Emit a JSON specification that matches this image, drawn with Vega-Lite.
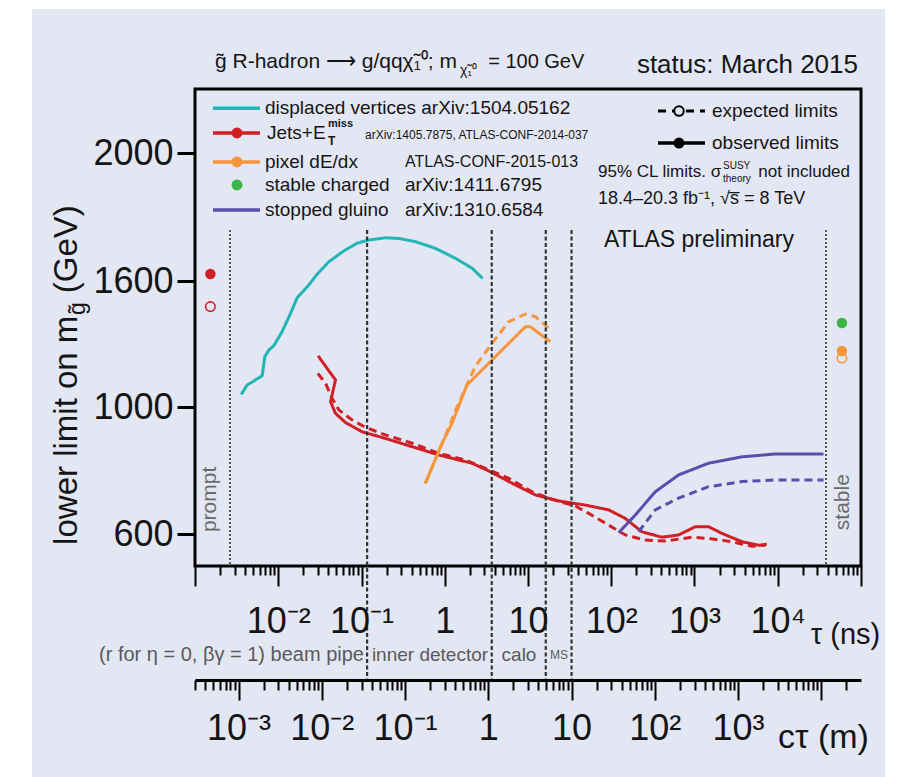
{
  "$schema": "https://vega.github.io/schema/vega-lite/v6.json",
  "width": 666,
  "height": 477,
  "autosize": {"type": "none"},
  "padding": {"left": 195, "top": 89, "right": 41, "bottom": 211},
  "background": "#ffffff",
  "config": {
    "view": {"stroke": null},
    "text": {"font": "Liberation Sans", "color": "#151515"},
    "axis": {"zindex": 2, "grid": false, "labelFont": "Liberation Sans", "titleFont": "Liberation Sans"}
  },
  "datasets": {
    "curves": [
      {"series":"displaced vertices","limit":"observed","tau":0.00359,"mass":1060},
      {"series":"displaced vertices","limit":"observed","tau":0.00424,"mass":1105},
      {"series":"displaced vertices","limit":"observed","tau":0.00509,"mass":1124},
      {"series":"displaced vertices","limit":"observed","tau":0.00641,"mass":1149},
      {"series":"displaced vertices","limit":"observed","tau":0.0069,"mass":1240},
      {"series":"displaced vertices","limit":"observed","tau":0.00771,"mass":1271},
      {"series":"displaced vertices","limit":"observed","tau":0.00885,"mass":1292},
      {"series":"displaced vertices","limit":"observed","tau":0.01114,"mass":1359},
      {"series":"displaced vertices","limit":"observed","tau":0.01406,"mass":1446},
      {"series":"displaced vertices","limit":"observed","tau":0.01687,"mass":1520},
      {"series":"displaced vertices","limit":"observed","tau":0.0233,"mass":1581},
      {"series":"displaced vertices","limit":"observed","tau":0.0293,"mass":1621},
      {"series":"displaced vertices","limit":"observed","tau":0.0405,"mass":1660},
      {"series":"displaced vertices","limit":"observed","tau":0.0613,"mass":1694},
      {"series":"displaced vertices","limit":"observed","tau":0.0885,"mass":1718},
      {"series":"displaced vertices","limit":"observed","tau":0.1224,"mass":1728},
      {"series":"displaced vertices","limit":"observed","tau":0.194,"mass":1735},
      {"series":"displaced vertices","limit":"observed","tau":0.2805,"mass":1733},
      {"series":"displaced vertices","limit":"observed","tau":0.445,"mass":1723},
      {"series":"displaced vertices","limit":"observed","tau":0.773,"mass":1702},
      {"series":"displaced vertices","limit":"observed","tau":1.343,"mass":1671},
      {"series":"displaced vertices","limit":"observed","tau":2.128,"mass":1640},
      {"series":"displaced vertices","limit":"observed","tau":2.858,"mass":1608},
      {"series":"Jets+MET","limit":"observed","tau":0.0301,"mass":1244},
      {"series":"Jets+MET","limit":"observed","tau":0.0386,"mass":1184},
      {"series":"Jets+MET","limit":"observed","tau":0.0487,"mass":1129},
      {"series":"Jets+MET","limit":"observed","tau":0.0425,"mass":1025},
      {"series":"Jets+MET","limit":"observed","tau":0.0487,"mass":980},
      {"series":"Jets+MET","limit":"observed","tau":0.0643,"mass":951},
      {"series":"Jets+MET","limit":"observed","tau":0.1016,"mass":922},
      {"series":"Jets+MET","limit":"observed","tau":0.194,"mass":901},
      {"series":"Jets+MET","limit":"observed","tau":0.405,"mass":875},
      {"series":"Jets+MET","limit":"observed","tau":0.847,"mass":849},
      {"series":"Jets+MET","limit":"observed","tau":1.472,"mass":833},
      {"series":"Jets+MET","limit":"observed","tau":2.128,"mass":823},
      {"series":"Jets+MET","limit":"observed","tau":3.54,"mass":796},
      {"series":"Jets+MET","limit":"observed","tau":6.43,"mass":760},
      {"series":"Jets+MET","limit":"observed","tau":12.27,"mass":723},
      {"series":"Jets+MET","limit":"observed","tau":23.4,"mass":704},
      {"series":"Jets+MET","limit":"observed","tau":48.9,"mass":691},
      {"series":"Jets+MET","limit":"observed","tau":93.1,"mass":676},
      {"series":"Jets+MET","limit":"observed","tau":147.6,"mass":649},
      {"series":"Jets+MET","limit":"observed","tau":233.8,"mass":607},
      {"series":"Jets+MET","limit":"observed","tau":406,"mass":590},
      {"series":"Jets+MET","limit":"observed","tau":644,"mass":597},
      {"series":"Jets+MET","limit":"observed","tau":1023,"mass":623},
      {"series":"Jets+MET","limit":"observed","tau":1477,"mass":623},
      {"series":"Jets+MET","limit":"observed","tau":2133,"mass":602},
      {"series":"Jets+MET","limit":"observed","tau":3707,"mass":576},
      {"series":"Jets+MET","limit":"observed","tau":5878,"mass":565},
      {"series":"Jets+MET","limit":"observed","tau":7396,"mass":568},
      {"series":"Jets+MET","limit":"expected","tau":0.0299,"mass":1160},
      {"series":"Jets+MET","limit":"expected","tau":0.037,"mass":1113},
      {"series":"Jets+MET","limit":"expected","tau":0.0444,"mass":1041},
      {"series":"Jets+MET","limit":"expected","tau":0.0534,"mass":991},
      {"series":"Jets+MET","limit":"expected","tau":0.0771,"mass":959},
      {"series":"Jets+MET","limit":"expected","tau":0.1117,"mass":936},
      {"series":"Jets+MET","limit":"expected","tau":0.194,"mass":912},
      {"series":"Jets+MET","limit":"expected","tau":0.405,"mass":886},
      {"series":"Jets+MET","limit":"expected","tau":0.847,"mass":854},
      {"series":"Jets+MET","limit":"expected","tau":1.771,"mass":833},
      {"series":"Jets+MET","limit":"expected","tau":3.08,"mass":807},
      {"series":"Jets+MET","limit":"expected","tau":5.87,"mass":775},
      {"series":"Jets+MET","limit":"expected","tau":11.17,"mass":733},
      {"series":"Jets+MET","limit":"expected","tau":19.4,"mass":709},
      {"series":"Jets+MET","limit":"expected","tau":37.1,"mass":688},
      {"series":"Jets+MET","limit":"expected","tau":53.6,"mass":665},
      {"series":"Jets+MET","limit":"expected","tau":93.1,"mass":628},
      {"series":"Jets+MET","limit":"expected","tau":147.6,"mass":597},
      {"series":"Jets+MET","limit":"expected","tau":256.6,"mass":581},
      {"series":"Jets+MET","limit":"expected","tau":446,"mass":578},
      {"series":"Jets+MET","limit":"expected","tau":931,"mass":590},
      {"series":"Jets+MET","limit":"expected","tau":1477,"mass":586},
      {"series":"Jets+MET","limit":"expected","tau":2812,"mass":576},
      {"series":"Jets+MET","limit":"expected","tau":4887,"mass":562},
      {"series":"Jets+MET","limit":"expected","tau":7079,"mass":565},
      {"series":"pixel dE/dx","limit":"observed","tau":0.583,"mass":759},
      {"series":"pixel dE/dx","limit":"observed","tau":0.929,"mass":886},
      {"series":"pixel dE/dx","limit":"observed","tau":1.224,"mass":949},
      {"series":"pixel dE/dx","limit":"observed","tau":1.853,"mass":1105},
      {"series":"pixel dE/dx","limit":"observed","tau":3.7,"mass":1224},
      {"series":"pixel dE/dx","limit":"observed","tau":9.31,"mass":1382},
      {"series":"pixel dE/dx","limit":"observed","tau":10.68,"mass":1382},
      {"series":"pixel dE/dx","limit":"observed","tau":18.58,"mass":1311},
      {"series":"pixel dE/dx","limit":"expected","tau":0.583,"mass":759},
      {"series":"pixel dE/dx","limit":"expected","tau":0.973,"mass":896},
      {"series":"pixel dE/dx","limit":"expected","tau":1.355,"mass":991},
      {"series":"pixel dE/dx","limit":"expected","tau":1.771,"mass":1090},
      {"series":"pixel dE/dx","limit":"expected","tau":2.337,"mass":1195},
      {"series":"pixel dE/dx","limit":"expected","tau":3.7,"mass":1303},
      {"series":"pixel dE/dx","limit":"expected","tau":5.87,"mass":1406},
      {"series":"pixel dE/dx","limit":"expected","tau":9.31,"mass":1443},
      {"series":"pixel dE/dx","limit":"expected","tau":12.27,"mass":1430},
      {"series":"pixel dE/dx","limit":"expected","tau":18.58,"mass":1367},
      {"series":"stopped gluino","limit":"observed","tau":122.7,"mass":604},
      {"series":"stopped gluino","limit":"observed","tau":194.5,"mass":660},
      {"series":"stopped gluino","limit":"observed","tau":338,"mass":733},
      {"series":"stopped gluino","limit":"observed","tau":644,"mass":786},
      {"series":"stopped gluino","limit":"observed","tau":1477,"mass":823},
      {"series":"stopped gluino","limit":"observed","tau":3707,"mass":843},
      {"series":"stopped gluino","limit":"observed","tau":9333,"mass":852},
      {"series":"stopped gluino","limit":"observed","tau":35480,"mass":852},
      {"series":"stopped gluino","limit":"expected","tau":213.3,"mass":607},
      {"series":"stopped gluino","limit":"expected","tau":338,"mass":676},
      {"series":"stopped gluino","limit":"expected","tau":644,"mass":713},
      {"series":"stopped gluino","limit":"expected","tau":1477,"mass":749},
      {"series":"stopped gluino","limit":"expected","tau":3707,"mass":765},
      {"series":"stopped gluino","limit":"expected","tau":9333,"mass":770},
      {"series":"stopped gluino","limit":"expected","tau":35480,"mass":770}
    ],
    "points": [
      {"series":"Jets+MET","limit":"observed","tau":0.00153,"mass":1622},
      {"series":"Jets+MET","limit":"expected","tau":0.00153,"mass":1478},
      {"series":"stable charged","limit":"observed","tau":59000,"mass":1400},
      {"series":"pixel dE/dx","limit":"observed","tau":59000,"mass":1267},
      {"series":"pixel dE/dx","limit":"expected","tau":59000,"mass":1233}
    ],
    "detector": [
      {"boundary":"beam pipe","r":0.035},
      {"boundary":"inner detector","r":1.1},
      {"boundary":"calorimeter","r":4.9},
      {"boundary":"muon spectrometer","r":10}
    ]
  },
  "layer": [
    {
      "layer": [
        {"data":{"values":[{}]},"mark":{"type":"rect","fill":"#e3e7f3"},"encoding":{"x":{"datum":0.000011},"x2":{"datum":195000},"y":{"datum":2450},"y2":{"datum":-160}}},
        {
          "data":{"name":"curves"},
          "mark":{"type":"line","strokeWidth":3},
          "encoding":{
            "x":{"field":"tau","type":"quantitative","scale":{"type":"log","domain":[0.001,100000],"nice":false},
              "axis":{"orient":"bottom","domain":false,"grid":false,
                "values":[0.001,0.002,0.003,0.004,0.005,0.006,0.007,0.008,0.009,0.01,0.02,0.03,0.04,0.05,0.06,0.07,0.08,0.09,0.1,0.2,0.3,0.4,0.5,0.6,0.7,0.8,0.9,1,2,3,4,5,6,7,8,9,10,20,30,40,50,60,70,80,90,100,200,300,400,500,600,700,800,900,1000,2000,3000,4000,5000,6000,7000,8000,9000,10000,20000,30000,40000,50000,60000,70000,80000,90000,100000],
                "tickColor":"#000000","tickWidth":2,"tickSize":20,
                "tickDash":{"condition":{"test":"indexof([0.001,0.01,0.1,1,10,100,1000,10000,100000], datum.value) >= 0","value":[40,1]},"value":[9,60]},
                "labelExpr":"datum.value == 0.01 ? '10⁻²' : datum.value == 0.1 ? '10⁻¹' : datum.value == 1 ? '1' : datum.value == 10 ? '10' : datum.value == 100 ? '10²' : datum.value == 1000 ? '10³' : datum.value == 10000 ? '10⁴' : ''",
                "labelFontSize":36,"labelColor":"#151515","labelPadding":18,"labelFlush":false,"labelOverlap":false,"labelBound":false,
                "title":"τ (ns)","titleX":650,"titleY":77,"titleFontSize":29,"titleFontWeight":"normal","titleAlign":"center","titleBaseline":"alphabetic","titleColor":"#151515","zindex":2}},
            "y":{"field":"mass","type":"quantitative","scale":{"domain":[500,600,1000,1600,2000,2200],"range":[477,445,318,192,64,0],"nice":false,"zero":false},
              "axis":{"values":[600,1000,1600,2000],"format":"d","domain":false,"tickSize":18,"tickWidth":3,"tickColor":"#000000","labelFontSize":36,"labelPadding":4,"labelColor":"#151515","title":null,"grid":false,"zindex":2}},
            "color":{"field":"series","type":"nominal","scale":{"domain":["displaced vertices","Jets+MET","pixel dE/dx","stable charged","stopped gluino"],"range":["#22b5b5","#d11f26","#f7953a","#3bb54a","#5b4cad"]},"legend":null},
            "strokeDash":{"field":"limit","type":"nominal","scale":{"domain":["observed","expected"],"range":[[1,0],[8,5]]},"legend":null},
            "order":{"value":null}
          }
        },
        {"data":{"values":[{}]},"mark":{"type":"rule","color":"#333333","strokeWidth":1.6,"strokeDash":[2,2]},"encoding":{"x":{"datum":0.002633},"y":{"datum":1759},"y2":{"datum":500}}},
        {"data":{"values":[{}]},"mark":{"type":"rule","color":"#333333","strokeWidth":1.6,"strokeDash":[2,2]},"encoding":{"x":{"datum":37980},"y":{"datum":1759},"y2":{"datum":500}}},
        {"data":{"values":[{}]},"mark":{"type":"text","angle":270,"align":"left","baseline":"middle","fontSize":21,"color":"#6b6b6b","text":"prompt"},"encoding":{"x":{"datum":0.001514},"y":{"datum":606}}},
        {"data":{"values":[{}]},"mark":{"type":"text","angle":270,"align":"left","baseline":"middle","fontSize":21,"color":"#6b6b6b","text":"stable"},"encoding":{"x":{"datum":60780},"y":{"datum":612}}},
        {"data":{"name":"points"},"transform":[{"filter":"datum.limit == 'observed'"}],"mark":{"type":"point","shape":"circle","filled":true,"size":110,"opacity":1},"encoding":{"x":{"field":"tau","type":"quantitative"},"y":{"field":"mass","type":"quantitative"},"color":{"field":"series","type":"nominal","legend":null}}},
        {"data":{"name":"points"},"transform":[{"filter":"datum.limit == 'expected'"}],"mark":{"type":"point","shape":"circle","filled":false,"size":90,"strokeWidth":1.6,"opacity":1},"encoding":{"x":{"field":"tau","type":"quantitative"},"y":{"field":"mass","type":"quantitative"},"color":{"field":"series","type":"nominal","legend":null}}},

        {"data":{"values":[{}]},"mark":{"type":"rule","color":"#22b5b5","strokeWidth":3.5},"encoding":{"x":{"datum":0.001645},"x2":{"datum":0.006036},"y":{"datum":2140}}},
        {"data":{"values":[{}]},"mark":{"type":"rule","color":"#d11f26","strokeWidth":3.5},"encoding":{"x":{"datum":0.001645},"x2":{"datum":0.006036},"y":{"datum":2062.5}}},
        {"data":{"values":[{}]},"mark":{"type":"rule","color":"#f7953a","strokeWidth":3.5},"encoding":{"x":{"datum":0.001645},"x2":{"datum":0.006036},"y":{"datum":1972}}},
        {"data":{"values":[{}]},"mark":{"type":"rule","color":"#5b4cad","strokeWidth":3.5},"encoding":{"x":{"datum":0.001645},"x2":{"datum":0.006036},"y":{"datum":1822}}},
        {"data":{"values":[{}]},"mark":{"type":"point","shape":"circle","filled":true,"size":120,"color":"#d11f26","opacity":1},"encoding":{"x":{"datum":0.003195},"y":{"datum":2062.5}}},
        {"data":{"values":[{}]},"mark":{"type":"point","shape":"circle","filled":true,"size":120,"color":"#f7953a","opacity":1},"encoding":{"x":{"datum":0.003195},"y":{"datum":1972}}},
        {"data":{"values":[{}]},"mark":{"type":"point","shape":"circle","filled":true,"size":120,"color":"#3bb54a","opacity":1},"encoding":{"x":{"datum":0.003195},"y":{"datum":1900}}},

        {"data":{"values":[{}]},"mark":{"type":"text","align":"left","baseline":"middle","fontSize":19,"text":"displaced vertices arXiv:1504.05162"},"encoding":{"x":{"datum":0.00693},"y":{"datum":2140}}},
        {"data":{"values":[{}]},"mark":{"type":"text","align":"left","baseline":"middle","fontSize":19,"text":"Jets+E"},"encoding":{"x":{"datum":0.00732},"y":{"datum":2062.5}}},
        {"data":{"values":[{}]},"mark":{"type":"text","align":"left","baseline":"middle","fontSize":11,"fontWeight":"bold","text":"miss"},"encoding":{"x":{"datum":0.03959},"y":{"datum":2090}}},
        {"data":{"values":[{}]},"mark":{"type":"text","align":"left","baseline":"middle","fontSize":12,"fontWeight":"bold","text":"T"},"encoding":{"x":{"datum":0.03959},"y":{"datum":2037}}},
        {"data":{"values":[{}]},"mark":{"type":"text","align":"left","baseline":"middle","fontSize":12,"text":"arXiv:1405.7875, ATLAS-CONF-2014-037"},"encoding":{"x":{"datum":0.1102},"y":{"datum":2056}}},
        {"data":{"values":[{}]},"mark":{"type":"text","align":"left","baseline":"middle","fontSize":19,"text":"pixel dE/dx"},"encoding":{"x":{"datum":0.00693},"y":{"datum":1972}}},
        {"data":{"values":[{}]},"mark":{"type":"text","align":"left","baseline":"middle","fontSize":16,"text":"ATLAS-CONF-2015-013"},"encoding":{"x":{"datum":0.3331},"y":{"datum":1972}}},
        {"data":{"values":[{}]},"mark":{"type":"text","align":"left","baseline":"middle","fontSize":19,"text":"stable charged"},"encoding":{"x":{"datum":0.00693},"y":{"datum":1900}}},
        {"data":{"values":[{}]},"mark":{"type":"text","align":"left","baseline":"middle","fontSize":19,"text":"arXiv:1411.6795"},"encoding":{"x":{"datum":0.3331},"y":{"datum":1900}}},
        {"data":{"values":[{}]},"mark":{"type":"text","align":"left","baseline":"middle","fontSize":19,"text":"stopped gluino"},"encoding":{"x":{"datum":0.00693},"y":{"datum":1822}}},
        {"data":{"values":[{}]},"mark":{"type":"text","align":"left","baseline":"middle","fontSize":19,"text":"arXiv:1310.6584"},"encoding":{"x":{"datum":0.3331},"y":{"datum":1822}}},

        {"data":{"values":[{}]},"mark":{"type":"rule","color":"#000000","strokeWidth":3,"strokeDash":[8,6]},"encoding":{"x":{"datum":364.4},"x2":{"datum":1337},"y":{"datum":2131}}},
        {"data":{"values":[{}]},"mark":{"type":"rule","color":"#000000","strokeWidth":3.5},"encoding":{"x":{"datum":364.4},"x2":{"datum":1337},"y":{"datum":2031}}},
        {"data":{"values":[{}]},"mark":{"type":"point","shape":"circle","fill":"#e3e7f3","stroke":"#000000","strokeWidth":2,"size":90,"opacity":1,"fillOpacity":1},"encoding":{"x":{"datum":651.6},"y":{"datum":2131}}},
        {"data":{"values":[{}]},"mark":{"type":"point","shape":"circle","filled":true,"color":"#000000","size":120,"opacity":1},"encoding":{"x":{"datum":651.6},"y":{"datum":2031}}},
        {"data":{"values":[{}]},"mark":{"type":"text","align":"left","baseline":"middle","fontSize":19,"text":"expected limits"},"encoding":{"x":{"datum":1623},"y":{"datum":2131}}},
        {"data":{"values":[{}]},"mark":{"type":"text","align":"left","baseline":"middle","fontSize":19,"text":"observed limits"},"encoding":{"x":{"datum":1623},"y":{"datum":2031}}},

        {"data":{"values":[{}]},"mark":{"type":"text","align":"left","baseline":"middle","fontSize":17,"text":"95% CL limits. σ"},"encoding":{"x":{"datum":69.3},"y":{"datum":1941}}},
        {"data":{"values":[{}]},"mark":{"type":"text","align":"left","baseline":"middle","fontSize":10,"text":"SUSY"},"encoding":{"x":{"datum":2199},"y":{"datum":1960}}},
        {"data":{"values":[{}]},"mark":{"type":"text","align":"left","baseline":"middle","fontSize":10,"text":"theory"},"encoding":{"x":{"datum":2199},"y":{"datum":1920}}},
        {"data":{"values":[{}]},"mark":{"type":"text","align":"right","baseline":"middle","fontSize":17,"text":"not included"},"encoding":{"x":{"datum":73770},"y":{"datum":1941}}},
        {"data":{"values":[{}]},"mark":{"type":"text","align":"left","baseline":"middle","fontSize":18,"text":"18.4–20.3 fb⁻¹, √s̅ = 8 TeV"},"encoding":{"x":{"datum":69.3},"y":{"datum":1856}}},
        {"data":{"values":[{}]},"mark":{"type":"text","align":"left","baseline":"middle","fontSize":23,"text":"ATLAS preliminary"},"encoding":{"x":{"datum":81.8},"y":{"datum":1728}}},

        {"data":{"values":[{}]},"mark":{"type":"text","align":"left","baseline":"middle","fontSize":21,"text":"g̃ R-hadron ⟶ g/qqχ̃₁⁰; m"},"encoding":{"x":{"datum":0.001739},"y":{"datum":2284}}},
        {"data":{"values":[{}]},"mark":{"type":"text","align":"left","baseline":"middle","fontSize":14,"text":"χ̃₁⁰"},"encoding":{"x":{"datum":1.525},"y":{"datum":2255}}},
        {"data":{"values":[{}]},"mark":{"type":"text","align":"right","baseline":"middle","fontSize":20,"text":"= 100 GeV"},"encoding":{"x":{"datum":47.5},"y":{"datum":2284}}},
        {"data":{"values":[{}]},"mark":{"type":"text","align":"right","baseline":"middle","fontSize":26,"text":"status: March 2015"},"encoding":{"x":{"datum":92040},"y":{"datum":2275}}},

        {"data":{"values":[{}]},"mark":{"type":"text","angle":270,"align":"left","baseline":"alphabetic","fontSize":33,"text":"lower limit on m"},"encoding":{"x":{"datum":0.00003824},"y":{"datum":566}}},
        {"data":{"values":[{}]},"mark":{"type":"text","angle":270,"align":"left","baseline":"alphabetic","fontSize":23,"text":"g̃"},"encoding":{"x":{"datum":0.0000477},"y":{"datum":1438}}},
        {"data":{"values":[{}]},"mark":{"type":"text","angle":270,"align":"right","baseline":"alphabetic","fontSize":33,"text":"(GeV)"},"encoding":{"x":{"datum":0.00003824},"y":{"datum":1837}}},

        {"data":{"values":[{}]},"mark":{"type":"rect","filled":false,"color":"#000000","strokeWidth":3},"encoding":{"x":{"datum":0.001},"x2":{"datum":100000},"y":{"datum":2200},"y2":{"datum":500}}}
      ]
    },
    {
      "layer": [
        {
          "data":{"name":"detector"},
          "mark":{"type":"rule","color":"#333333","strokeWidth":2.2,"strokeDash":[4,2.5]},
          "encoding":{
            "x":{"field":"r","type":"quantitative","scale":{"type":"log","domain":[0.00029979,29979],"nice":false},
              "axis":{"orient":"bottom","offset":114,"grid":false,
                "values":[0.0003,0.0004,0.0005,0.0006,0.0007,0.0008,0.0009,0.001,0.002,0.003,0.004,0.005,0.006,0.007,0.008,0.009,0.01,0.02,0.03,0.04,0.05,0.06,0.07,0.08,0.09,0.1,0.2,0.3,0.4,0.5,0.6,0.7,0.8,0.9,1,2,3,4,5,6,7,8,9,10,20,30,40,50,60,70,80,90,100,200,300,400,500,600,700,800,900,1000,2000,3000,4000,5000,6000,7000,8000,9000,10000,20000],
                "domain":true,"domainColor":"#000000","domainWidth":3,
                "tickColor":"#000000","tickWidth":2,"tickSize":20,
                "tickDash":{"condition":{"test":"indexof([0.001,0.01,0.1,1,10,100,1000,10000], datum.value) >= 0","value":[40,1]},"value":[10,60]},
                "labelExpr":"datum.value == 0.001 ? '10⁻³' : datum.value == 0.01 ? '10⁻²' : datum.value == 0.1 ? '10⁻¹' : datum.value == 1 ? '1' : datum.value == 10 ? '10' : datum.value == 100 ? '10²' : datum.value == 1000 ? '10³' : ''",
                "labelFontSize":36,"labelColor":"#151515","labelPadding":11,"labelFlush":false,"labelOverlap":false,"labelBound":false,
                "title":"cτ (m)","titleX":628,"titleY":67,"titleFontSize":34,"titleFontWeight":"normal","titleAlign":"center","titleBaseline":"alphabetic","titleColor":"#151515","zindex":2}},
            "y":{"datum":1759},
            "y2":{"datum":143.75}
          }
        },
        {"data":{"values":[{}]},"mark":{"type":"text","align":"right","baseline":"middle","fontSize":20,"color":"#5a5a5a","text":"(r for η = 0, βγ = 1) beam pipe"},"encoding":{"x":{"datum":0.03212},"y":{"datum":222}}},
        {"data":{"values":[{}]},"mark":{"type":"text","align":"center","baseline":"middle","fontSize":19,"color":"#5a5a5a","text":"inner detector"},"encoding":{"x":{"datum":0.1993},"y":{"datum":222}}},
        {"data":{"values":[{}]},"mark":{"type":"text","align":"center","baseline":"middle","fontSize":19,"color":"#5a5a5a","text":"calo"},"encoding":{"x":{"datum":2.337},"y":{"datum":222}}},
        {"data":{"values":[{}]},"mark":{"type":"text","align":"center","baseline":"middle","fontSize":12,"color":"#5a5a5a","text":"MS"},"encoding":{"x":{"datum":7.07},"y":{"datum":222}}}
      ]
    }
  ],
  "resolve": {"scale": {"x": "independent"}, "axis": {"x": "independent"}}
}
